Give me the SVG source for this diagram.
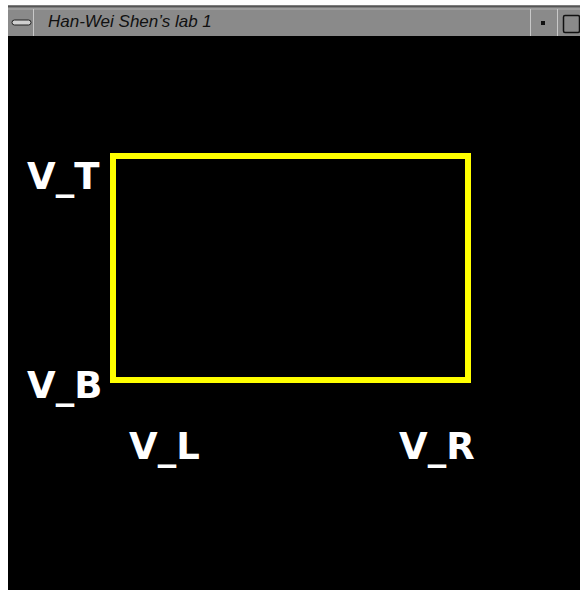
<svg xmlns="http://www.w3.org/2000/svg" width="580" height="590" viewBox="0 0 580 590">
<style>
.lbl{font-family:"DejaVu Sans",Verdana,sans-serif;font-weight:bold;font-size:37px;fill:#ffffff}
.ttl{font-family:"Liberation Sans",Arial,sans-serif;font-style:italic;font-size:17px;fill:#111111}
</style>
<rect width="580" height="590" fill="#ffffff"/>
<g id="titlebar">
<rect x="8" y="5" width="572" height="31" fill="#8a8a8a"/>
<line x1="8" y1="6.5" x2="580" y2="6.5" stroke="#555555" stroke-width="1.5"/>
<line x1="8" y1="9" x2="580" y2="9" stroke="#b0b0b0" stroke-width="1"/>
<line x1="33.5" y1="9" x2="33.5" y2="36" stroke="#c8c8c8" stroke-width="1"/>
<rect x="12" y="20" width="19" height="5" rx="2.5" fill="#d0d0d0" stroke="#222222" stroke-width="1"/>
<text class="ttl" x="48" y="27">Han-Wei Shen’s lab 1</text>
<line x1="530.5" y1="9" x2="530.5" y2="36" stroke="#c8c8c8" stroke-width="1"/>
<rect x="541" y="21" width="4" height="4" fill="#111111"/>
<line x1="557.5" y1="9" x2="557.5" y2="36" stroke="#c8c8c8" stroke-width="1"/>
<rect x="563.5" y="15.5" width="16" height="17" rx="1.5" fill="#8a8a8a" stroke="#111111" stroke-width="1.5"/>
</g>
<rect x="8" y="36" width="572" height="554" fill="#000000"/>
<g id="viewport">
<rect x="113" y="156" width="355" height="224" fill="none" stroke="#ffff00" stroke-width="6"/>
</g>
<g id="labels">
<text class="lbl" x="27" y="189">V_T</text>
<text class="lbl" x="27" y="398">V_B</text>
<text class="lbl" x="129" y="459">V_L</text>
<text class="lbl" x="399" y="459">V_R</text>
</g>
<g id="connectors"/>
</svg>
